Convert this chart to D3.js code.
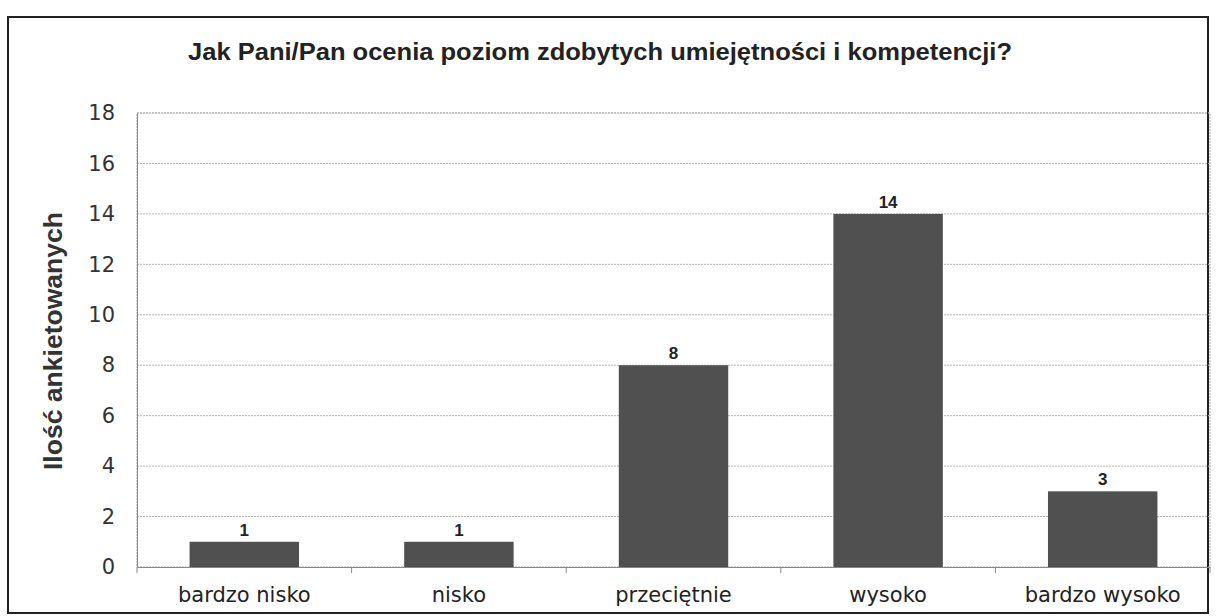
<!DOCTYPE html>
<html>
<head>
<meta charset="utf-8">
<script src="https://cdn.jsdelivr.net/npm/d3@7"></script>
<style>
  body { margin: 0; background: #fff; }
  svg { display: block; }
</style>
</head>
<body>
<div id="chart"></div>
<script>
const title = 'Jak Pani/Pan ocenia poziom zdobytych umiejętności i kompetencji?'
const yTitle = 'Ilość ankietowanych'
const categories = ['bardzo nisko', 'nisko', 'przeciętnie', 'wysoko', 'bardzo wysoko']
const counts = [1, 1, 8, 14, 3]
const yTicks = [0, 2, 4, 6, 8, 10, 12, 14, 16, 18]

const W = 1216, H = 616
const m = { top: 113, right: 6, bottom: 49, left: 137 }

const svg = d3.select('#chart').append('svg')
  .attr('width', W).attr('height', H)

// outer frame
svg.append('rect')
  .attr('x', 8).attr('y', 17)
  .attr('width', 1200).attr('height', 596)
  .attr('fill', 'none').attr('stroke', '#222').attr('stroke-width', 2)

const x = d3.scaleBand()
  .domain(categories)
  .range([m.left, W - m.right])
  .paddingInner(0.49).paddingOuter(0.245)

const y = d3.scaleLinear()
  .domain([0, 18])
  .range([H - m.bottom, m.top])

// gridlines
svg.append('g')
  .selectAll('line')
  .data(yTicks.slice(1))
  .join('line')
  .attr('x1', m.left).attr('x2', W - m.right)
  .attr('y1', d => y(d)).attr('y2', d => y(d))
  .attr('stroke', '#b5b5b5').attr('stroke-dasharray', '2,1')

// plot frame
svg.append('rect')
  .attr('x', m.left).attr('y', m.top)
  .attr('width', W - m.right - m.left).attr('height', y(0) - m.top)
  .attr('fill', 'none').attr('stroke', '#aaa').attr('stroke-dasharray', '2,1')

// y axis labels
const yAxis = svg.append('g')
  .attr('transform', `translate(${m.left},0)`)
  .call(d3.axisLeft(y).tickValues(yTicks).tickSize(0).tickPadding(22))
yAxis.select('.domain').attr('stroke', '#888')
yAxis.selectAll('text')
  .attr('font-family', 'DejaVu Sans, sans-serif')
  .attr('font-size', 21).attr('fill', '#333')

// x axis
const xAxis = svg.append('g')
  .attr('transform', `translate(0,${y(0)})`)
  .call(d3.axisBottom(x).tickSize(0).tickPadding(20))
xAxis.select('.domain').attr('stroke', '#888')
xAxis.selectAll('text')
  .attr('font-family', 'DejaVu Sans, sans-serif')
  .attr('font-size', 21).attr('fill', '#222')

// small ticks between categories
const step = x.step()
svg.append('g')
  .selectAll('line')
  .data(d3.range(categories.length + 1))
  .join('line')
  .attr('x1', i => m.left + i * step).attr('x2', i => m.left + i * step)
  .attr('y1', y(0)).attr('y2', y(0) + 6)
  .attr('stroke', '#888')

// bars
svg.append('g')
  .selectAll('rect')
  .data(counts)
  .join('rect')
  .attr('x', (d, i) => x(categories[i]))
  .attr('y', d => y(d))
  .attr('width', x.bandwidth())
  .attr('height', d => y(0) - y(d))
  .attr('fill', '#505050')

// value labels
svg.append('g')
  .selectAll('text')
  .data(counts)
  .join('text')
  .attr('x', (d, i) => x(categories[i]) + x.bandwidth() / 2)
  .attr('y', d => y(d) - 6)
  .attr('text-anchor', 'middle')
  .attr('font-family', 'Liberation Sans, Arial, sans-serif')
  .attr('font-weight', 'bold')
  .attr('font-size', 17).attr('fill', '#222')
  .text(d => d)

// titles
svg.append('text')
  .attr('x', 600).attr('y', 60)
  .attr('text-anchor', 'middle')
  .attr('font-family', 'Liberation Sans, Arial, sans-serif')
  .attr('font-weight', 'bold')
  .attr('font-size', 24).attr('fill', '#222')
  .attr('textLength', 824).attr('lengthAdjust', 'spacingAndGlyphs')
  .text(title)

svg.append('text')
  .attr('transform', `translate(62,341) rotate(-90)`)
  .attr('text-anchor', 'middle')
  .attr('font-family', 'Liberation Sans, Arial, sans-serif')
  .attr('font-weight', 'bold')
  .attr('font-size', 25).attr('fill', '#333')
  .attr('textLength', 258).attr('lengthAdjust', 'spacingAndGlyphs')
  .text(yTitle)
</script>
</body>
</html>
